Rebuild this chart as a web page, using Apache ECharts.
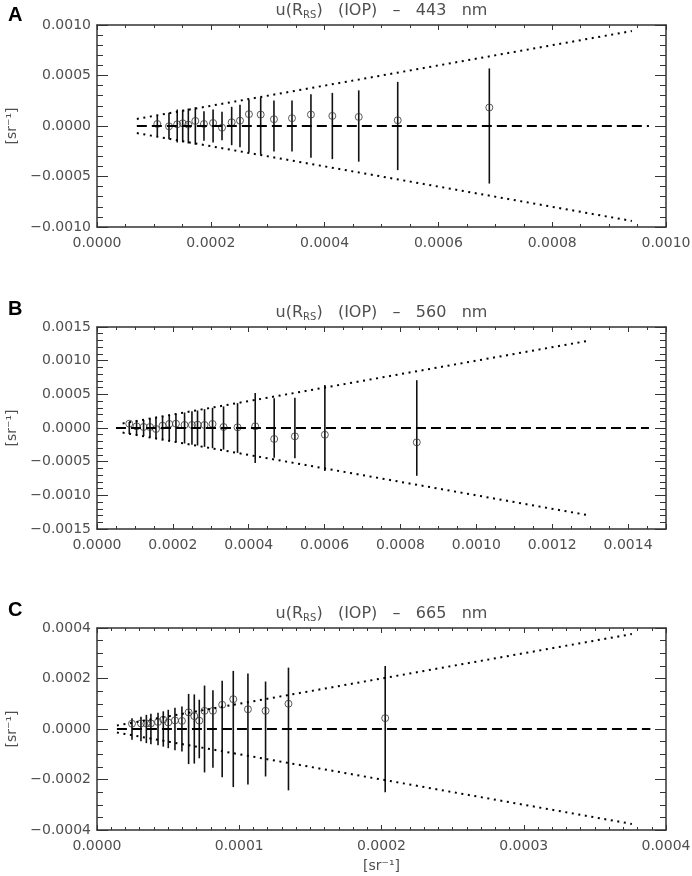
<!DOCTYPE html>
<html>
<head>
<meta charset="utf-8">
<script src="https://cdn.jsdelivr.net/npm/echarts@6/dist/echarts.min.js"></script>
<style>
  html, body { margin: 0; padding: 0; background: #fff; }
  #chart { width: 692px; height: 876px; }
</style>
</head>
<body>
<div id="chart"></div>
<script>
// 443 nm
var xA = [0.000106, 0.0001265, 0.000141, 0.0001506, 0.0001605, 0.0001728, 0.000188, 0.000204, 0.0002197, 0.0002367,
          0.0002513, 0.000267, 0.0002877, 0.000311, 0.0003427, 0.000376, 0.0004136, 0.00046, 0.0005285, 0.0006895];
var yA = [0.00002, -0.000003, 0.000017, 0.000027, 0.000013, 0.00005, 0.00002, 0.00003, -0.000017, 0.000037,
          0.000053, 0.000117, 0.000113, 0.000067, 0.000077, 0.000113, 0.0001, 0.00009, 0.000057, 0.000183];
var eA = [0.0001, 0.00013, 0.000163, 0.00016, 0.000173, 0.000185, 0.000145, 0.000163, 0.00014, 0.00019,
          0.00021, 0.00026, 0.000283, 0.000253, 0.000253, 0.000315, 0.000328, 0.000353, 0.000437, 0.00057];
var envA = [0.00007, 0.00094];
var zeroA = [0.00007, 0.00097];

// 560 nm
var xB = [0.0000851, 0.0001043, 0.0001228, 0.0001396, 0.0001555, 0.0001728, 0.0001905, 0.0002081, 0.0002308, 0.0002503,
          0.000265, 0.0002835, 0.0003046, 0.0003336, 0.0003705, 0.0004171, 0.0004671, 0.0005217, 0.0006007, 0.000843];
var yB = [0.000064, 0.000025, 0.000015, 0.000015, -0.000015, 0.000035, 0.00006, 0.000064, 0.000045, 0.000045,
          0.00005, 0.000045, 0.00006, 0.000015, 0.00001, 0.000025, -0.000163, -0.000124, -0.0001, -0.000213];
var eB = [0.00009, 0.00011, 0.00012, 0.00014, 0.00015, 0.00017, 0.00019, 0.00021, 0.00023, 0.00025,
          0.00026, 0.00028, 0.0003, 0.00032, 0.00037, 0.00052, 0.00044, 0.00045, 0.00064, 0.00071];
var envB = [0.0000675, 0.0013];
var zeroB = [0.00005, 0.001455];

// 665 nm
var xC = [0.0000246, 0.0000309, 0.0000347, 0.0000379, 0.0000429, 0.0000466, 0.0000501, 0.0000548, 0.0000597, 0.0000644,
          0.0000684, 0.0000719, 0.0000756, 0.0000815, 0.000088, 0.0000958, 0.0001061, 0.0001185, 0.0001346, 0.0002026];
var yC = [0.000021, 0.000022, 0.000022, 0.000022, 0.000028, 0.000037, 0.000026, 0.000034, 0.000032, 0.000066,
          0.000051, 0.000033, 0.000072, 0.000072, 0.000096, 0.000118, 0.000078, 0.000072, 0.0001, 0.000043];
var eC = [0.000043, 0.000049, 0.000056, 0.00006, 0.000064, 0.00007, 0.000076, 0.000084, 0.000089, 0.000139,
          0.000137, 0.000116, 0.000172, 0.000153, 0.000191, 0.00023, 0.00022, 0.000188, 0.000243, 0.00025];
var envC = [0.000014, 0.000376];
var zeroC = [0.000014, 0.000389];

var titles = ['443', '560', '665'];
var letters = ['A', 'B', 'C'];

var panels = [
  { x: xA, y: yA, e: eA, env: envA, zero: zeroA, xMax: 0.001, xStep: 0.0002, xMinor: 4, yMax: 0.001, yStep: 0.0005, yMinor: 5, top: 25 },
  { x: xB, y: yB, e: eB, env: envB, zero: zeroB, xMax: 0.0015, xStep: 0.0002, xMinor: 4, yMax: 0.0015, yStep: 0.0005, yMinor: 5, top: 327 },
  { x: xC, y: yC, e: eC, env: envC, zero: zeroC, xMax: 0.0004, xStep: 0.0001, xMinor: 10, yMax: 0.0004, yStep: 0.0002, yMinor: 4, top: 628 }
];

var FONT = 'DejaVu Sans';
var TXT = '#4f4f4f';
var AX = '#333';
var sr = '[sr\u207b\u00b9]';

// tick labels: 4 decimals, real minus sign, blank for off-step extent ticks
function fmt(step) {
  return function (v) {
    var k = v / step;
    if (Math.abs(k - Math.round(k)) > 1e-6) return '';
    var s = Math.abs(v) < 1e-12 ? '0.0000' : v.toFixed(4);
    return s.replace('-', '\u2212');
  };
}

var grids = [], xAxes = [], yAxes = [], series = [], titleList = [];
var letterTop = [5, 299, 600];

panels.forEach(function (p, i) {
  grids.push({ left: 97, right: 26, top: p.top, height: 202, outerBoundsMode: 'none' });
  titleList.push({ text: letters[i], left: 8, top: letterTop[i], padding: 0,
    textStyle: { fontFamily: 'Liberation Sans', fontWeight: 'bold', fontSize: 20, color: '#000' } });

  var xc = {
    gridIndex: i, type: 'value', min: 0, max: p.xMax, interval: p.xStep,
    axisLine: { show: true, onZero: false, lineStyle: { color: AX, width: 1.5 } },
    axisTick: { show: true, inside: true, length: 5, lineStyle: { color: AX, width: 1 } },
    minorTick: { show: true, splitNumber: p.xMinor, length: 3, lineStyle: { color: AX, width: 1 } },
    splitLine: { show: false }
  };
  xAxes.push(Object.assign({}, xc, {
    position: 'bottom',
    axisLabel: { formatter: fmt(p.xStep), color: TXT, fontFamily: FONT, fontSize: 14, margin: 9 },
    name: i === 2 ? sr : '', nameLocation: 'middle', nameGap: 29,
    nameTextStyle: { color: TXT, fontFamily: FONT, fontSize: 14 }
  }));
  xAxes.push(Object.assign({}, xc, {
    position: 'top',
    axisLabel: { show: false },
    name: 'u(R{sub|RS})   (IOP)   \u2013   ' + titles[i] + '   nm', nameLocation: 'middle', nameGap: 5,
    nameTextStyle: {
      color: TXT, fontFamily: FONT, fontSize: 16, verticalAlign: 'bottom',
      rich: { sub: { fontSize: 10, color: TXT, fontFamily: FONT, padding: [9, 0, 0, 0] } }
    }
  }));

  var yc = {
    gridIndex: i, type: 'value', min: -p.yMax, max: p.yMax, interval: p.yStep,
    axisLine: { show: true, onZero: false, lineStyle: { color: AX, width: 1.5 } },
    axisTick: { show: true, inside: true, length: 11, lineStyle: { color: AX, width: 1 } },
    minorTick: { show: true, splitNumber: p.yMinor, length: 6, lineStyle: { color: AX, width: 1 } },
    splitLine: { show: false }
  };
  yAxes.push(Object.assign({}, yc, {
    position: 'left',
    axisLabel: { formatter: fmt(p.yStep), color: TXT, fontFamily: FONT, fontSize: 14, margin: 6 },
    name: sr, nameLocation: 'middle', nameRotate: 90, nameGap: 76,
    nameTextStyle: { color: TXT, fontFamily: FONT, fontSize: 14 }
  }));
  yAxes.push(Object.assign({}, yc, { position: 'right', axisLabel: { show: false } }));

  var xi = 2 * i, yi = 2 * i;

  // dotted envelope (upper / lower)
  series.push({
    type: 'line', xAxisIndex: xi, yAxisIndex: yi, showSymbol: false, silent: true,
    data: [[p.env[0], p.env[0]], [p.env[1], p.env[1]]],
    lineStyle: { color: '#000', width: 2, type: [2, 4.6] }
  });
  series.push({
    type: 'line', xAxisIndex: xi, yAxisIndex: yi, showSymbol: false, silent: true,
    data: [[p.env[0], -p.env[0]], [p.env[1], -p.env[1]]],
    lineStyle: { color: '#000', width: 2, type: [2, 4.6] }
  });
  // dashed zero line
  series.push({
    type: 'line', xAxisIndex: xi, yAxisIndex: yi, showSymbol: false, silent: true,
    data: [[p.zero[0], 0], [p.zero[1], 0]],
    lineStyle: { color: '#000', width: 2, type: [10, 5] }
  });
  // uncertainty bars, centred on zero
  series.push({
    type: 'custom', xAxisIndex: xi, yAxisIndex: yi, silent: true,
    data: p.x.map(function (v, k) { return [v, -p.e[k], p.e[k]]; }),
    encode: { x: 0, y: [1, 2] },
    renderItem: function (params, api) {
      var a = api.coord([api.value(0), api.value(1)]);
      var b = api.coord([api.value(0), api.value(2)]);
      return { type: 'line', shape: { x1: a[0], y1: a[1], x2: b[0], y2: b[1] },
        style: { stroke: '#111', lineWidth: 1.6 } };
    }
  });
  // mean difference
  series.push({
    type: 'scatter', xAxisIndex: xi, yAxisIndex: yi, silent: true,
    data: p.x.map(function (v, k) { return [v, p.y[k]]; }),
    symbol: 'circle', symbolSize: 7,
    itemStyle: { color: 'rgba(255,255,255,0)', borderColor: '#333', borderWidth: 1 }
  });
});

var chart = echarts.init(document.getElementById('chart'), null, { renderer: 'canvas' });
chart.setOption({
  backgroundColor: '#fff',
  animation: false,
  title: titleList,
  grid: grids,
  xAxis: xAxes,
  yAxis: yAxes,
  series: series
});
</script>
</body>
</html>
